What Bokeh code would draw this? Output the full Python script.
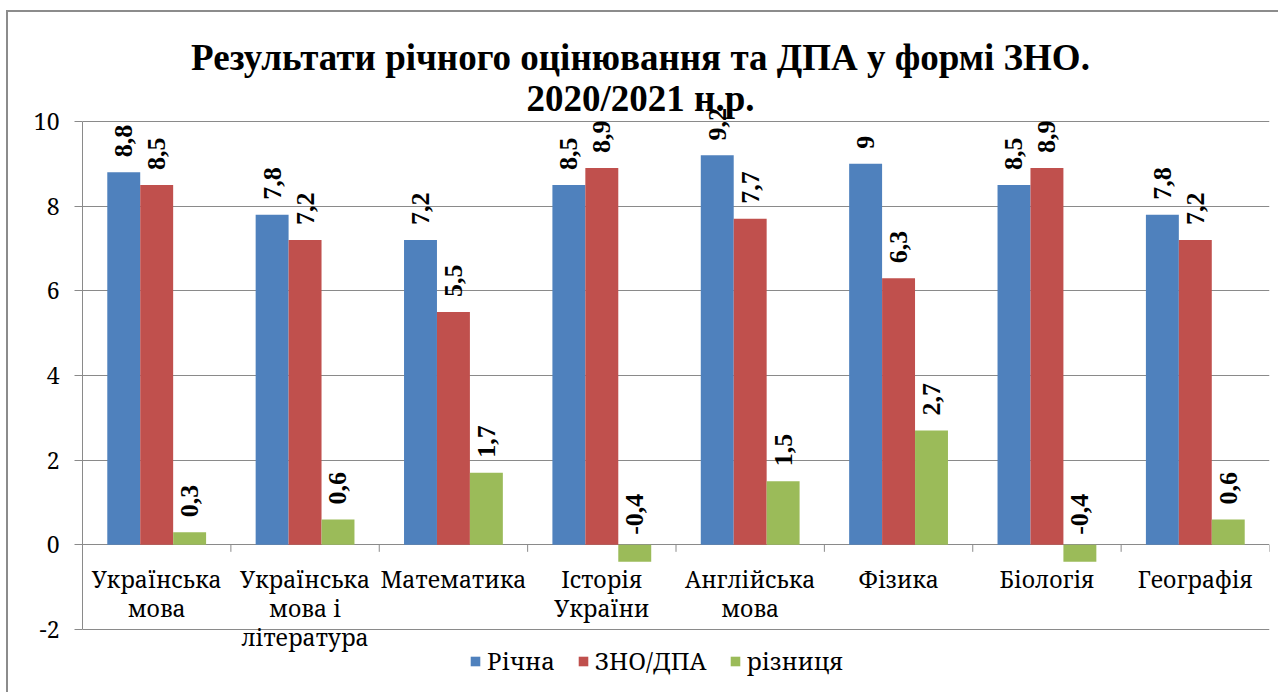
import math
from bokeh.plotting import figure
from bokeh.core.properties import value
from bokeh.models import (FactorRange, Range1d, ColumnDataSource, LabelSet, Label, Legend,
                          LegendItem, FixedTicker)
from bokeh.transform import dodge
from bokeh.embed import file_html
from bokeh.resources import INLINE

# ---------------- data ----------------
categories = ["Українська\nмова", "Українська\nмова і\nлітература", "Математика",
              "Історія\nУкраїни", "Англійська\nмова", "Фізика", "Біологія", "Географія"]
cat_keys = ["c%d" % i for i in range(len(categories))]
series_names = ["Річна", "ЗНО/ДПА", "різниця"]
richna = [8.8, 7.8, 7.2, 8.5, 9.2, 9.0, 8.5, 7.8]
zno = [8.5, 7.2, 5.5, 8.9, 7.7, 6.3, 8.9, 7.2]
riznytsia = [0.3, 0.6, 1.7, -0.4, 1.5, 2.7, -0.4, 0.6]
y_ticks = [-2, 0, 2, 4, 6, 8, 10]
y_tick_labels = ["-2", "0", "2", "4", "6", "8", "10"]
title_lines = ["Результати річного оцінювання та ДПА у формі ЗНО.", "2020/2021 н.р."]

colors = ["#4F81BD", "#C0504D", "#9BBB59"]
series = [richna, zno, riznytsia]

SERIF_BOLD = "Times New Roman"
SERIF = "Noto Serif"
GRID = "#8a8a8a"

# layout (page pixels): canvas starts at (8, 12), value axis -2..10 spans 629..121
W, H = 1272, 682
canvas_left, canvas_top = 8, 12
canvas_bottom = canvas_top + H
y_top_px, y_bot_px = 121, 629
x_left_px, x_right_px = 82, 1269
ppu = (y_bot_px - y_top_px) / (y_ticks[-1] - y_ticks[0])
y_start = y_ticks[0] - (canvas_bottom - y_bot_px) / ppu
y_end = y_ticks[-1] + (y_top_px - canvas_top) / ppu

p = figure(x_range=FactorRange(*cat_keys, range_padding=0), y_range=Range1d(y_start, y_end),
           width=W, height=H, output_backend="svg", toolbar_location=None,
           title=None, min_border_left=x_left_px - canvas_left,
           min_border_right=canvas_left + W - x_right_px, min_border_top=0,
           min_border_bottom=0)
p.styles = {"margin-left": "6px", "margin-top": "10px",
            "border-top": "2px solid #8c8c8c", "border-left": "2px solid #8c8c8c"}
p.outline_line_color = None
p.background_fill_color = "white"
p.border_fill_color = "white"

p.xaxis.visible = False
p.xgrid.visible = False
p.ygrid.ticker = FixedTicker(ticks=y_ticks)
p.ygrid.grid_line_color = GRID
p.ygrid.grid_line_width = 1

ax = p.yaxis[0]
ax.ticker = FixedTicker(ticks=y_ticks)
ax.bounds = (y_ticks[0], y_ticks[-1])
ax.major_label_overrides = {t: s for t, s in zip(y_ticks, y_tick_labels)}
ax.axis_line_color = GRID
ax.major_tick_line_color = GRID
ax.major_tick_out = 8
ax.major_tick_in = 0
ax.minor_tick_line_color = None
ax.major_label_text_font = SERIF
ax.major_label_text_font_size = "23px"
ax.major_label_text_color = "black"
ax.major_label_standoff = 15

src = ColumnDataSource(dict(cat=cat_keys, s0=richna, s1=zno, s2=riznytsia))
bar_w = 0.222
offsets = [-bar_w, 0.0, bar_w]
renderers = []
for k in range(3):
    r = p.vbar(x=dodge("cat", offsets[k], range=p.x_range), top="s%d" % k, bottom=0,
               width=bar_w, source=src, fill_color=colors[k], line_color=None)
    renderers.append(r)

# category-axis ticks at y=0 (boundaries between categories)
tick_len = 7 / ppu
bounds = list(range(1, len(cat_keys) + 1))
p.segment(x0=bounds, y0=[0] * len(bounds), x1=bounds, y1=[-tick_len] * len(bounds),
          line_color=GRID, line_width=1)

# data labels
lx, ly, lt, lo = [], [], [], []
for k in range(3):
    for i, v in enumerate(series[k]):
        lx.append(i + 0.5 + offsets[k])
        ly.append(max(v, 0))
        lt.append(("%g" % v).replace(".", ","))
        lo.append(15 if v >= 0 else 10)
p.add_layout(LabelSet(x="x", y="y", text="t", y_offset="o",
                      source=ColumnDataSource(dict(x=lx, y=ly, t=lt, o=lo)),
                      angle=math.pi / 2, text_align="left", text_baseline="middle",
                      text_font=value(SERIF_BOLD), text_font_size=value("26px"),
                      text_font_style=value("bold"), text_color="black"))

# category labels (below the zero line)
cx, cy, ct, co = [], [], [], []
for i, c in enumerate(categories):
    for j, line in enumerate(c.split("\n")):
        cx.append(i + 0.5)
        cy.append(0)
        ct.append(line)
        co.append(-34 - 29 * j)
p.add_layout(LabelSet(x="x", y="y", text="t", y_offset="o",
                      source=ColumnDataSource(dict(x=cx, y=cy, t=ct, o=co)),
                      text_align="center", text_baseline="middle",
                      text_font=value(SERIF), text_font_size=value("23px"), text_color="black"))

# title (two centred lines), frame-relative screen units
for j, line in enumerate(title_lines):
    p.add_layout(Label(x=640 - x_left_px, y=canvas_bottom - (57 + 41 * j), x_units="screen",
                       y_units="screen", text=line, text_align="center",
                       text_baseline="middle", text_font=SERIF_BOLD, text_font_size="37px",
                       text_font_style="bold", text_color="black"))

legend = Legend(items=[LegendItem(label=series_names[k], renderers=[renderers[k]]) for k in range(3)],
                orientation="horizontal", location=(469 - x_left_px, canvas_bottom - 663 - 14),
                glyph_width=12, glyph_height=12, label_standoff=6, spacing=22,
                padding=0, margin=0, border_line_color=None, background_fill_alpha=0,
                label_text_font=SERIF, label_text_font_size="24px", label_text_color="black")
p.add_layout(legend, "center")

open("out.html", "w").write(file_html(p, INLINE))
